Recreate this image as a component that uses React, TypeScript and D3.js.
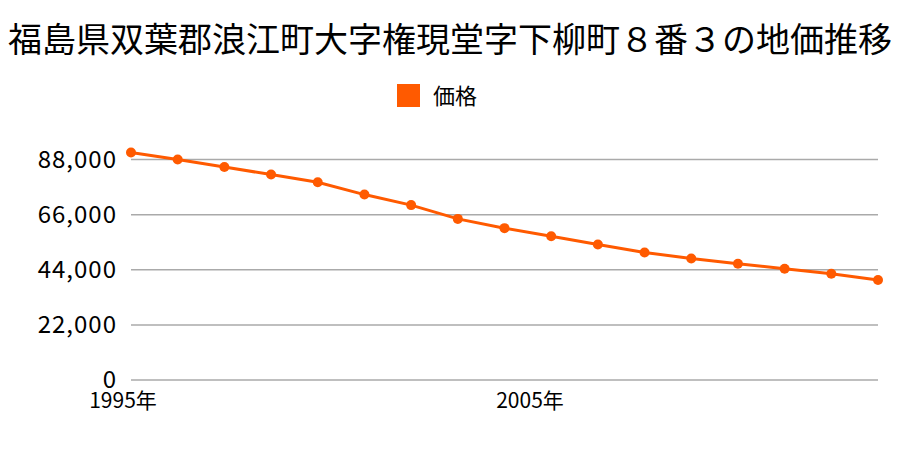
import React from "react";
import * as d3 from "d3";

const title = "福島県双葉郡浪江町大字権現堂字下柳町８番３の地価推移";
const seriesName = "価格";
const years = [1995, 1996, 1997, 1998, 1999, 2000, 2001, 2002, 2003, 2004, 2005, 2006, 2007, 2008, 2009, 2010, 2011];
const prices = [90800, 88000, 85000, 82000, 78900, 74000, 69800, 64300, 60600, 57400, 54100, 50900, 48500, 46400, 44400, 42400, 39900];
const yTicks = [0, 22000, 44000, 66000, 88000];
const xTickYears = [1995, 2005];
const xTickLabels = ["1995年", "2005年"];

const W = 900;
const H = 450;
const FONT = "'Noto Sans CJK JP', 'Noto Sans', sans-serif";
const COLOR = "#ff5a00";

export default function App() {
  const x = d3.scaleLinear().domain([1995, 2011]).range([131, 878]);
  const y = d3.scaleLinear().domain([0, 88000]).range([380, 159.5]);
  const xLabel = d3.scaleLinear().domain([1995, 2005]).range([123, 530]);
  const line = d3
    .line<number>()
    .x((_, i) => x(years[i]))
    .y((d) => y(d));

  return (
    <svg width={W} height={H} style={{ position: "absolute", left: 0, top: 0, background: "#fff" }}>
      <rect width={W} height={H} fill="#fff" />
      <text x={W / 2} y={52} textAnchor="middle" fontFamily={FONT} fontSize={34} fill="#000">
        {title}
      </text>
      <rect x={397} y={84} width={23} height={23} fill={COLOR} />
      <text x={433} y={104} fontFamily={FONT} fontSize={22} fill="#000">
        {seriesName}
      </text>
      {yTicks.map((t) => (
        <g key={t}>
          <line x1={131} x2={878} y1={y(t)} y2={y(t)} stroke="#aaaaaa" strokeWidth={1.5} />
          <text
            x={117}
            y={y(t)}
            dy="0.35em"
            textAnchor="end"
            fontFamily={FONT}
            fontSize={24}
            letterSpacing={1}
            fill="#000"
          >
            {d3.format(",")(t)}
          </text>
        </g>
      ))}
      {xTickYears.map((yr, i) => (
        <text
          key={yr}
          x={xLabel(yr)}
          y={408}
          textAnchor="middle"
          fontFamily={FONT}
          fontSize={21}
          fill="#000"
        >
          {xTickLabels[i]}
        </text>
      ))}
      <path d={line(prices) ?? ""} fill="none" stroke={COLOR} strokeWidth={3} />
      {prices.map((p, i) => (
        <circle key={i} cx={x(years[i])} cy={y(p)} r={5} fill={COLOR} />
      ))}
    </svg>
  );
}
